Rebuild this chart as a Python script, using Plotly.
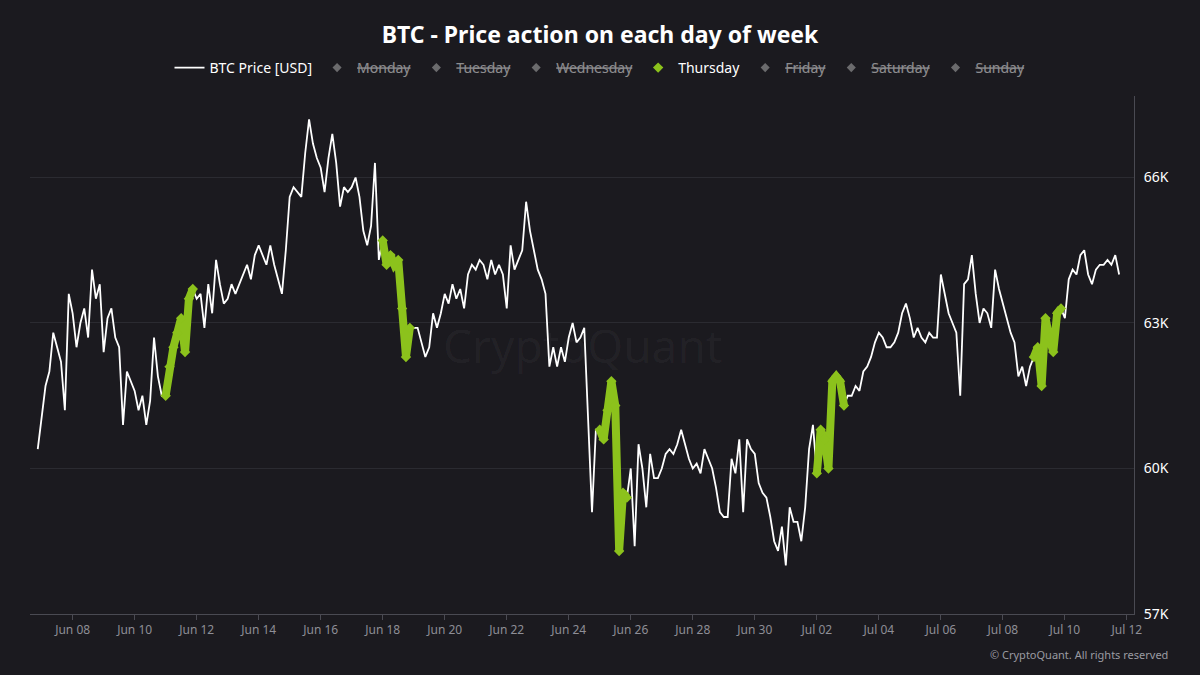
import pandas as pd
import plotly.graph_objects as go

# BTC price in thousands USD, sampled every 3 hours starting 2026-06-06 21:00
price_start = [60.4]
price_wk1 = [  # Jun 07 - Jun 13
    61.0, 61.7, 62.0, 62.8, 62.5, 62.2, 61.2, 63.6,
    63.2, 62.5, 63.0, 63.3, 62.7, 64.1, 63.5, 63.8,
    62.4, 63.1, 63.3, 62.7, 62.5, 60.9, 62.0, 61.8,
    61.6, 61.2, 61.5, 60.9, 61.4, 62.7, 61.9, 61.5,
    61.5, 62.1, 62.5, 62.8, 63.1, 62.4, 63.5, 63.7,
    63.5, 63.6, 62.9, 63.8, 63.2, 64.3, 63.8, 63.4,
    63.5, 63.8, 63.6, 63.8, 64.0, 64.2, 63.9, 64.4,
]
price_wk2 = [  # Jun 14 - Jun 20
    64.6, 64.4, 64.2, 64.6, 64.2, 63.9, 63.6, 64.5,
    65.6, 65.8, 65.7, 65.6, 66.5, 67.2, 66.7, 66.4,
    66.2, 65.7, 66.4, 66.9, 66.3, 65.4, 65.8, 65.7,
    65.8, 66.0, 65.6, 64.9, 64.6, 65.0, 66.3, 64.3,
    64.7, 64.2, 64.4, 64.2, 64.3, 63.3, 62.3, 62.9,
    62.9, 62.9, 62.6, 62.3, 62.5, 63.2, 62.9, 63.2,
    63.6, 63.4, 63.8, 63.5, 63.7, 63.3, 64.0, 64.2,
]
price_wk3 = [  # Jun 21 - Jun 27
    64.1, 64.3, 64.2, 63.9, 64.3, 64.0, 64.2, 64.0,
    63.3, 64.6, 64.1, 64.3, 64.5, 65.5, 64.9, 64.5,
    64.1, 63.9, 63.6, 62.1, 62.5, 62.1, 62.5, 62.2,
    62.7, 63.0, 62.6, 62.7, 62.9, 61.0, 59.1, 60.8,
    60.8, 60.6, 61.2, 61.8, 61.3, 58.3, 59.5, 59.4,
    60.0, 58.4, 60.5, 60.0, 59.2, 60.3, 59.8, 59.8,
    60.0, 60.3, 60.4, 60.3, 60.5, 60.8, 60.5, 60.2,
]
price_wk4 = [  # Jun 28 - Jul 04
    60.0, 60.1, 59.9, 60.4, 60.2, 60.0, 59.6, 59.1,
    59.0, 59.0, 60.2, 59.9, 60.6, 59.1, 60.6, 60.4,
    60.3, 59.7, 59.5, 59.4, 59.0, 58.5, 58.3, 58.8,
    58.0, 59.2, 58.9, 58.9, 58.5, 59.2, 60.4, 60.9,
    59.9, 60.8, 60.6, 60.0, 61.8, 61.9, 61.8, 61.3,
    61.5, 61.5, 61.7, 61.6, 62.0, 62.1, 62.3, 62.6,
    62.8, 62.7, 62.5, 62.5, 62.6, 62.8, 63.2, 63.4,
]
price_wk5 = [  # Jul 05 - Jul 11
    63.1, 62.7, 62.9, 62.7, 62.6, 62.8, 62.7, 62.7,
    64.0, 63.6, 63.2, 63.0, 62.8, 61.5, 63.8, 63.9,
    64.4, 63.6, 63.0, 63.3, 63.2, 62.9, 64.1, 63.7,
    63.4, 63.1, 62.8, 62.6, 61.9, 62.1, 61.7, 62.1,
    62.3, 62.5, 61.7, 63.1, 62.7, 62.4, 63.2, 63.3,
    63.1, 63.9, 64.1, 64.0, 64.4, 64.5, 64.0, 63.8,
    64.1, 64.2, 64.2, 64.3, 64.2, 64.4, 64.0,
]
day_names = ["Monday", "Tuesday", "Wednesday", "Thursday", "Friday", "Saturday", "Sunday"]
y_ticks = [57, 60, 63, 66]
y_tick_labels = ["57K", "60K", "63K", "66K"]

prices = price_start + price_wk1 + price_wk2 + price_wk3 + price_wk4 + price_wk5
times = pd.date_range("2026-06-06 21:00", periods=len(prices), freq="3h")
df = pd.DataFrame({"t": times, "p": prices})
df["dow"] = df["t"].dt.dayofweek

BG = "#1b1a1f"
GREEN = "#8cc21c"

fig = go.Figure()
fig.add_trace(go.Scatter(x=df["t"], y=df["p"], mode="lines", name="BTC Price [USD]",
                         line=dict(color="white", width=1.8)))

for i, name in enumerate(day_names):
    sub = df[df["dow"] == i]
    if name == "Thursday":
        xs, ys = [], []
        prev_date = None
        for t, p in zip(sub["t"], sub["p"]):
            if prev_date is not None and t.date() != prev_date:
                xs.append(None); ys.append(None)
            xs.append(t); ys.append(p)
            prev_date = t.date()
        fig.add_trace(go.Scatter(x=xs, y=ys, mode="lines", showlegend=False,
                                 line=dict(color=GREEN, width=8), hoverinfo="skip"))
        fig.add_trace(go.Scatter(x=sub["t"], y=sub["p"], mode="markers", name=name,
                                 marker=dict(symbol="diamond", size=8, color=GREEN)))
    else:
        fig.add_trace(go.Scatter(x=sub["t"], y=sub["p"], mode="markers", name=f"<s>{name}</s>",
                                 visible="legendonly",
                                 marker=dict(symbol="diamond", size=7, color="#bbbbbb")))

fig.update_layout(
    width=1200, height=675,
    paper_bgcolor=BG, plot_bgcolor=BG,
    margin=dict(l=30, r=66, t=93, b=61),
    font=dict(family="Noto Sans", color="white"),
    title=dict(text="<b>BTC - Price action on each day of week</b>", x=0.5, xref="container",
               y=1 - 35 / 675, yref="container", xanchor="center", yanchor="middle",
               font=dict(size=23, color="white", family="Noto Sans")),
    legend=dict(orientation="h", xref="container", yref="container", x=0.5, xanchor="center",
                y=1 - 68 / 675, yanchor="middle", font=dict(size=14, color="white"),
                itemwidth=30, bgcolor="rgba(0,0,0,0)"),
    xaxis=dict(range=["2026-06-06 15:00", "2026-07-12 05:30"], showgrid=False,
               tickformat="%b %d", dtick=2 * 86400000, tick0="2026-06-08",
               showline=True, linecolor="#4a4a52", linewidth=1,
               ticks="outside", ticklen=5, tickcolor="#4a4a52",
               tickfont=dict(size=12, color="#8e8e96"), zeroline=False),
    yaxis=dict(side="right", range=[57, 67.68], tickmode="array", tickvals=y_ticks,
               ticktext=y_tick_labels, ticklabelstandoff=6,
               showgrid=True, gridcolor="#2b2b31", gridwidth=1,
               showline=True, linecolor="#4a4a52", linewidth=1,
               tickfont=dict(size=14, color="white"), zeroline=False, ticks=""),
    showlegend=True,
)

fig.add_annotation(text="CryptoQuant", xref="paper", yref="paper", x=0.50, y=0.52,
                   showarrow=False, font=dict(size=46, color="rgba(255,255,255,0.04)", family="Noto Sans"))
fig.add_annotation(text="© CryptoQuant. All rights reserved", xref="paper", yref="paper",
                   x=(1170 - 30) / 1104, y=(675 - 61 - 655) / 521, xanchor="right", yanchor="middle",
                   showarrow=False, font=dict(size=11, color="#9a9aa2"))

fig.write_html("out.html", config={"displayModeBar": False}, post_script=(
    "document.body.style.margin='0';document.body.style.padding='0';"
    "document.body.style.background='#1b1a1f';document.body.style.overflow='hidden';"))
